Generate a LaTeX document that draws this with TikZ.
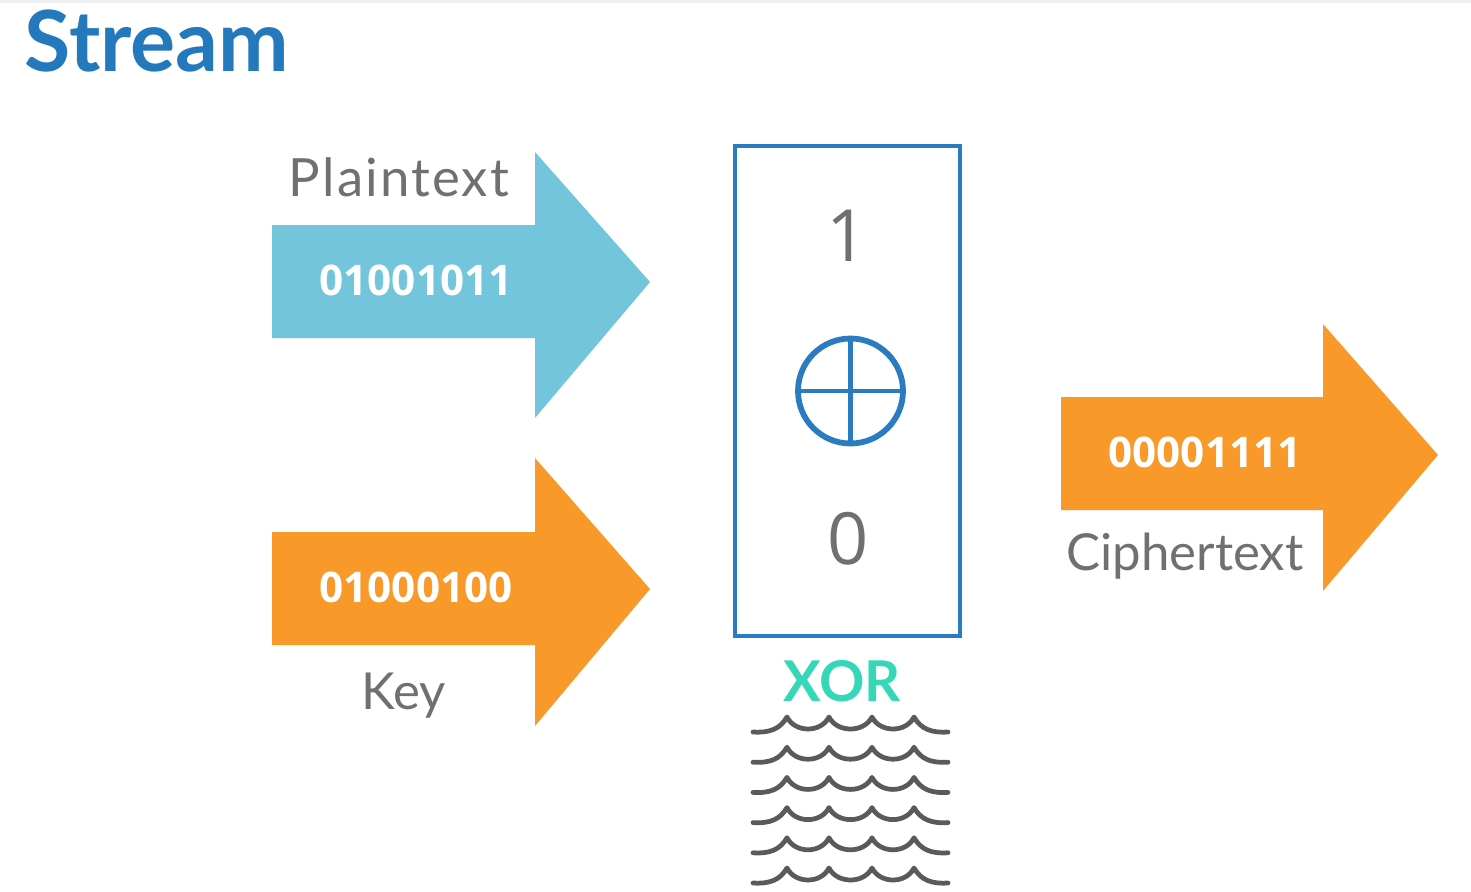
\documentclass[tikz,border=0pt]{standalone}
\usepackage{fontspec}
\setmainfont{Lato}
\newfontfamily\digitfont{Open Sans}
\definecolor{titleblue}{HTML}{2479BD}
\definecolor{boxblue}{HTML}{2A7BC0}
\definecolor{lightblue}{HTML}{73C5DB}
\definecolor{orangec}{HTML}{F8992A}
\definecolor{graytext}{HTML}{707070}
\definecolor{wavegray}{HTML}{5A5A5A}
\definecolor{tealc}{HTML}{34D8B7}
\begin{document}
\begin{tikzpicture}[x=0.02cm,y=-0.02cm,
  lbl/.style={text=graytext,font=\fontsize{29}{34}\selectfont,anchor=base,inner sep=0pt},
  bits/.style={text=white,font=\digitfont\bfseries\fontsize{24}{28}\selectfont,anchor=base,inner sep=0pt},
  bigdigit/.style={text=graytext,font=\digitfont\fontsize{41}{48}\selectfont,anchor=base,inner sep=0pt},
  wave/.style={draw=wavegray,line width=2.7pt,line cap=round,line join=round}]
\useasboundingbox (0,0) rectangle (1471,892);
\fill[white] (0,0) rectangle (1471,892);
\fill[gray!12] (0,0) rectangle (1471,3);
% title
\node[anchor=base,inner sep=0pt,text=titleblue,font=\bfseries\fontsize{48}{54}\selectfont] (title) at (157,72) {Stream};
% plaintext arrow
\fill[lightblue] (272,225) -- (535,225) -- (535,152) -- (650,282) -- (535,418) -- (535,338) -- (272,338) -- cycle;
\node[bits] (pbits) at (416,295) {01001011};
\node[lbl,font=\addfontfeature{LetterSpace=4}\fontsize{30}{34}\selectfont] (plab) at (399,196) {Plaintext};
% key arrow
\fill[orangec] (272,532) -- (535,532) -- (535,458) -- (650,589) -- (535,726) -- (535,645) -- (272,645) -- cycle;
\node[bits] (kbits) at (416,602) {01000100};
\node[lbl] (klab) at (404,709) {Key};
% cipher arrow
\fill[orangec] (1061,397) -- (1323,397) -- (1323,324) -- (1438,455) -- (1323,591) -- (1323,510) -- (1061,510) -- cycle;
\node[bits] (cbits) at (1205,467) {00001111};
\node[lbl] (clab) at (1185,570) {Ciphertext};
% xor box
\draw[boxblue,line width=2.4pt] (735,146) rectangle (960,636);
\node[bigdigit] (one) at (847,261) {1};
\node[bigdigit] (zero) at (848,564) {0};
\draw[boxblue,line width=3.3pt] (850.5,391) circle (52.5);
\draw[boxblue,line width=2.6pt] (850.5,338.5) -- (850.5,443.5);
\draw[boxblue,line width=2.6pt] (798,391) -- (903,391);
\node[anchor=base,inner sep=0pt,text=tealc,font=\bfseries\fontsize{32}{38}\selectfont] (xor) at (842,701) {XOR};
% waves
\foreach \r in {0,1,2,3,4,5}{
  \pgfmathsetmacro{\yb}{732+30.2*\r}
  \pgfmathsetmacro{\yc}{\yb-15}
  \draw[wave] (753,\yb) .. controls (770,\yb+1) and (780,\yb-3) .. (787,\yc)
    .. controls (795,\yb+1) and (821,\yb+1) .. (829,\yc)
    .. controls (837,\yb+1) and (864,\yb+1) .. (872,\yc)
    .. controls (880,\yb+1) and (906,\yb+1) .. (914,\yc)
    .. controls (921,\yb-3) and (931,\yb+1) .. (948,\yb);
}
\end{tikzpicture}
\end{document}
